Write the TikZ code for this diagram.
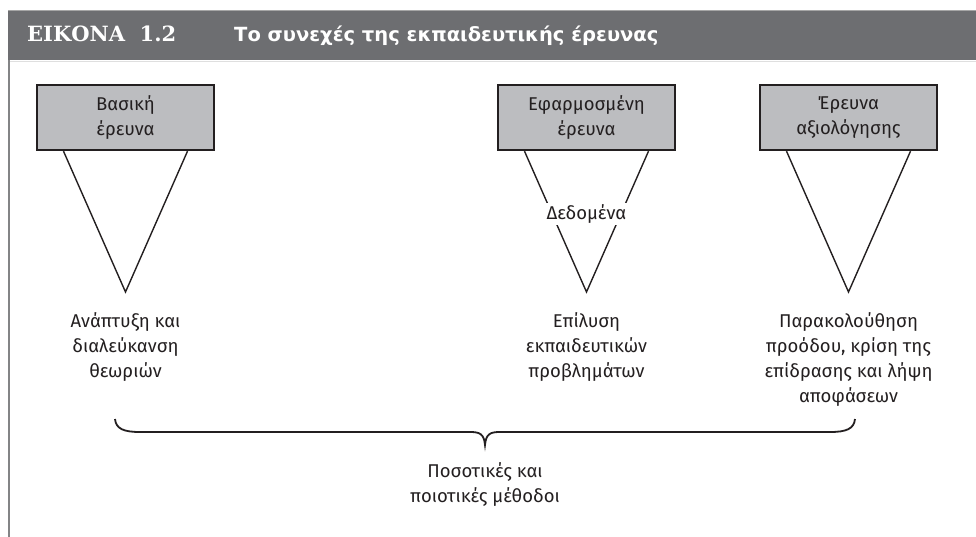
\documentclass[tikz,border=0pt]{standalone}
\usepackage{fontspec}
\setmainfont{Fira Sans}
\newfontfamily\slabfont{DejaVu Serif}
\newfontfamily\headfont{DejaVu Sans}
\usetikzlibrary{positioning}

\definecolor{headgray}{HTML}{6D6E71}
\definecolor{boxgray}{HTML}{BCBDC0}
\definecolor{inkblack}{HTML}{231F20}

\tikzset{
  researchbox/.style={draw=inkblack, line width=2.4pt, fill=boxgray, text=inkblack,
    minimum width=177pt, minimum height=65pt, align=center,
    font=\fontsize{18.5}{25}\selectfont},
  outcome/.style={anchor=north, align=center, inner sep=0pt, text=inkblack,
    font=\fontsize{18.5}{25}\selectfont},
  leg/.style={draw=inkblack, line width=1.4pt},
}

\begin{document}
\begin{tikzpicture}[x=1pt,y=-1pt]
  \useasboundingbox (0,0) rectangle (976,537);
  % Header bar
  \fill[headgray] (8,10) rectangle (976,60);
  \draw[gray!70, line width=1pt] (8,10.5) -- (976,10.5);
  \draw[gray!25, line width=1pt] (8,61.5) -- (976,61.5);
  \draw[headgray!85, line width=2pt] (9,60) -- (9,537);
  \node[anchor=base west, inner sep=0pt, text=white,
    font=\slabfont\bfseries\fontsize{21}{22}\selectfont] (figno) at (27,42) {ΕΙΚΟΝΑ\ \ 1.2};
  \node[anchor=base west, inner sep=0pt, text=white,
    font=\headfont\bfseries\fontsize{19.5}{22}\selectfont] (title) at (234,42) {Το συνεχές της εκπαιδευτικής έρευνας};
  % Research types
  \node[researchbox] (basic) at (125.5,117.5) {Βασική\\έρευνα};
  \node[researchbox] (applied) at (586.5,117.5) {Εφαρμοσμένη\\έρευνα};
  \node[researchbox] (evaluation) at (848.5,117.5) {Έρευνα\\αξιολόγησης};
  % Funnels
  \coordinate (basicTip) at (125.5,292);
  \coordinate (appliedTip) at (586.5,292);
  \coordinate (evaluationTip) at (848.5,292);
  \draw[leg] ([xshift=-62pt]basic.south) -- (basicTip) -- ([xshift=62pt]basic.south);
  \draw[leg] ([xshift=-62pt]applied.south) -- (appliedTip) -- ([xshift=62pt]applied.south);
  \draw[leg] ([xshift=-62pt]evaluation.south) -- (evaluationTip) -- ([xshift=62pt]evaluation.south);
  \node[fill=white, inner sep=2pt, text=inkblack, font=\fontsize{18.5}{20}\selectfont] (data) at (586.5,214) {Δεδομένα};
  % Outcomes
  \node[outcome] (theory) at (125.5,312) {Ανάπτυξη και\\διαλεύκανση\\θεωριών};
  \node[outcome] (problems) at (586.5,312) {Επίλυση\\εκπαιδευτικών\\προβλημάτων};
  \node[outcome] (decisions) at (848.5,312) {Παρακολούθηση\\προόδου, κρίση της\\επίδρασης και λήψη\\αποφάσεων};
  % Brace
  \coordinate (braceL) at (115,419);
  \coordinate (braceR) at (855,419);
  \coordinate (braceTip) at (485,445);
  \draw[inkblack, line width=1.8pt] (braceL) .. controls (116,429) and (124,432) .. (140,432)
    -- (470,432) .. controls (480,432) and (484,434) .. (braceTip)
    .. controls (486,434) and (490,432) .. (500,432) -- (830,432)
    .. controls (846,432) and (854,429) .. (braceR);
  \node[outcome] (methods) at (485,462) {Ποσοτικές και\\ποιοτικές μέθοδοι};
\end{tikzpicture}
\end{document}
